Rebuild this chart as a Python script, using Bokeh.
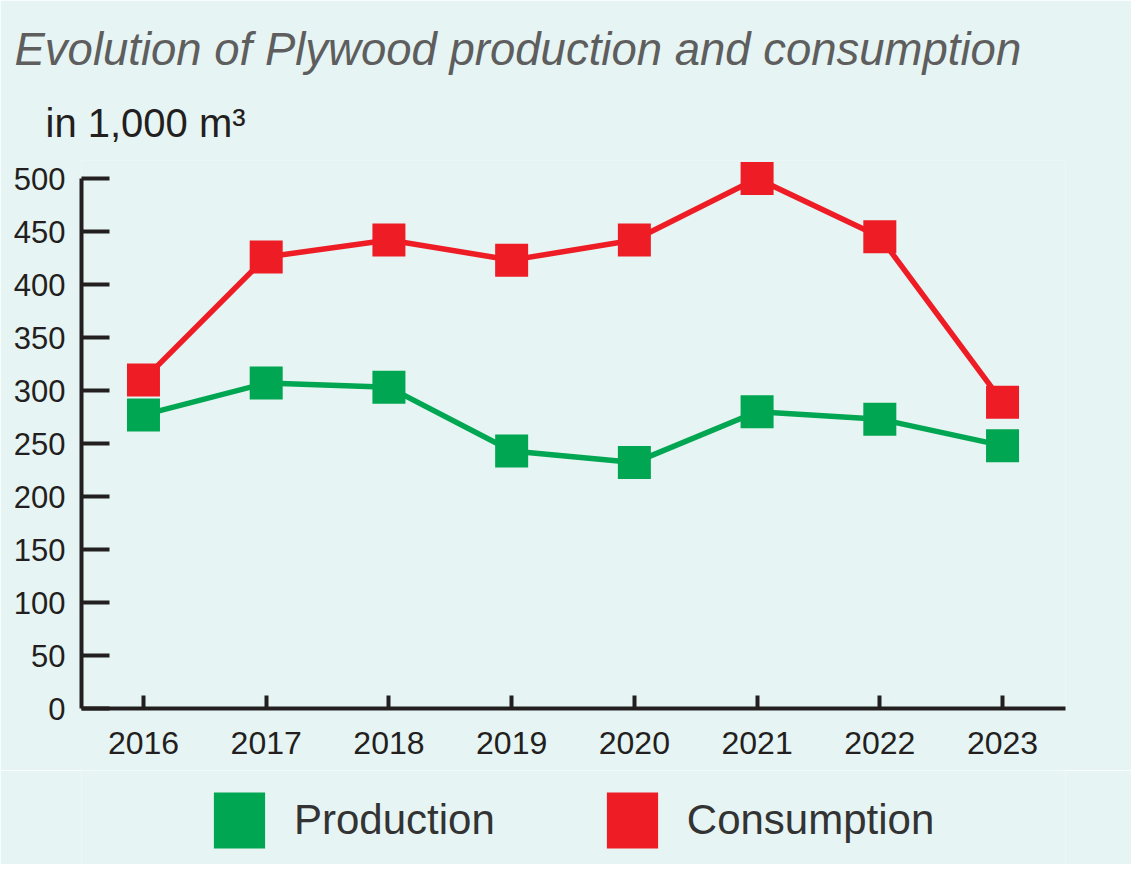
from bokeh.plotting import figure
from bokeh.layouts import column
from bokeh.models import Range1d, FixedTicker, Title, Legend, LegendItem
from bokeh.embed import file_html
from bokeh.resources import INLINE

years = [2016, 2017, 2018, 2019, 2020, 2021, 2022, 2023]
production = [277, 307, 303, 243, 232, 280, 273, 248]
consumption = [310, 426, 442, 423, 442, 500, 445, 289]
y_ticks = [0, 50, 100, 150, 200, 250, 300, 350, 400, 450, 500]
title_text = "Evolution of Plywood production and consumption"
unit_text = "in 1,000 m³"
series_names = ["Production", "Consumption"]

GREEN = "#00A651"
RED = "#EE1C25"
INK = "#231F20"
BG = "#E6F4F3"
FONT = "Liberation Sans"

p = figure(width=1131, height=770, output_backend="svg", toolbar_location=None,
           x_range=Range1d(2015.495, 2023.513), y_range=Range1d(0, 517),
           min_border_left=81, min_border_right=66, min_border_top=160,
           min_border_bottom=62)
p.background_fill_color = BG
p.border_fill_color = BG
p.outline_line_color = None
p.grid.visible = False

p.title.text = title_text
p.title.text_font = FONT
p.title.text_font_style = "italic"
p.title.text_font_size = "45.5px"
p.title.text_color = "#5E5E5E"
p.title.align = "left"
p.title.offset = -67
p.title.standoff = 18

p.add_layout(Title(text=unit_text, text_font=FONT, text_font_style="normal",
                   text_font_size="40px", text_color=INK, align="left",
                   offset=-36, standoff=31), "above")

for ax in (p.xaxis[0], p.yaxis[0]):
    ax.axis_line_color = INK
    ax.axis_line_width = 4
    ax.major_tick_line_color = INK
    ax.major_tick_line_width = 4
    ax.major_tick_out = 0
    ax.minor_tick_line_color = None
    ax.major_label_text_font = FONT
    ax.major_label_text_color = INK

p.xaxis.ticker = FixedTicker(ticks=years)
p.xaxis.major_tick_in = 13
p.xaxis.major_label_standoff = 23
p.xaxis.major_label_text_font_size = "32px"
p.yaxis.ticker = FixedTicker(ticks=y_ticks)
p.yaxis.bounds = (y_ticks[0], y_ticks[-1])
p.yaxis.major_tick_in = 28
p.yaxis.major_label_standoff = 16
p.yaxis.major_label_text_font_size = "31px"

p.line(years, production, line_color=GREEN, line_width=5.5)
p.line(years, consumption, line_color=RED, line_width=5.5)
p.scatter(years, production, marker="square", size=33, fill_color=GREEN, line_color=None)
p.scatter(years, consumption, marker="square", size=33, fill_color=RED, line_color=None)

# legend strip below the chart
p2 = figure(width=1131, height=94, output_backend="svg", toolbar_location=None,
            x_axis_type=None, y_axis_type=None, min_border=0,
            x_range=Range1d(0, 1), y_range=Range1d(0, 1))
p2.background_fill_color = BG
p2.border_fill_color = BG
p2.outline_line_color = None
k_prod = p2.vbar(x=years, top=production, width=0.5, fill_color=GREEN, line_color=None, visible=False)
k_cons = p2.vbar(x=years, top=consumption, width=0.5, fill_color=RED, line_color=None, visible=False)
legend = Legend(items=[LegendItem(label=series_names[0], renderers=[k_prod]),
                       LegendItem(label=series_names[1], renderers=[k_cons])],
                orientation="horizontal", location=(126, 9),
                glyph_width=64, glyph_height=70, label_standoff=23, spacing=105,
                padding=0, margin=0, border_line_color=None,
                background_fill_alpha=0, label_text_font=FONT,
                label_text_font_size="42px", label_text_color="#333333",
                label_height=70)
p2.add_layout(legend, "center")

layout = column(p, p2, spacing=0)
open("out.html", "w").write(file_html(layout, INLINE))
